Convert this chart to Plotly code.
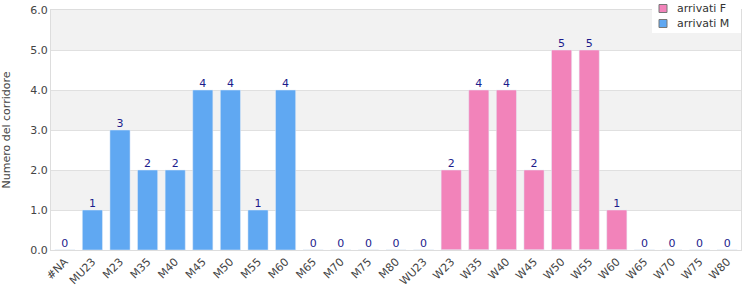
import plotly.graph_objects as go

categories = ["#NA", "MU23", "M23", "M35", "M40", "M45", "M50", "M55", "M60", "M65", "M70", "M75", "M80",
              "WU23", "W23", "W35", "W40", "W45", "W50", "W55", "W60", "W65", "W70", "W75", "W80"]
arrivati_M = [0, 1, 3, 2, 2, 4, 4, 1, 4, 0, 0, 0, 0, 0, 0, 0, 0, 0, 0, 0, 0, 0, 0, 0, 0]
arrivati_F = [0, 0, 0, 0, 0, 0, 0, 0, 0, 0, 0, 0, 0, 0, 2, 4, 4, 2, 5, 5, 1, 0, 0, 0, 0]
series_names = ["arrivati F", "arrivati M"]
totals = [m + f for m, f in zip(arrivati_M, arrivati_F)]

BLUE = "#60a8f2"
PINK = "#f283ba"

L, R, T, B = 51, 9, 10, 50
W, H = 750, 300
PW, PH = W - L - R, H - T - B


def px(x):
    return (x - L) / PW


def py(y):
    return (H - B - y) / PH


fig = go.Figure()
fig.add_trace(go.Bar(x=categories, y=arrivati_F, marker_color=PINK, width=0.73,
                     showlegend=False, name=series_names[0]))
fig.add_trace(go.Bar(x=categories, y=arrivati_M, marker_color=BLUE, width=0.73,
                     showlegend=False, name=series_names[1]))
fig.add_trace(go.Scatter(x=categories, y=totals, mode="text", text=[str(t) for t in totals],
                         textposition="top center", textfont=dict(color="#1c1c8c", size=11,
                         family="DejaVu Sans"), showlegend=False, hoverinfo="skip", cliponaxis=False))

shapes = []
for lo in [1, 3, 5]:
    shapes.append(dict(type="rect", xref="paper", yref="y", x0=0, x1=1, y0=lo, y1=lo + 1,
                       fillcolor="#f2f2f2", line_width=0, layer="below"))

# manual legend
shapes.append(dict(type="rect", xref="paper", yref="paper", x0=px(652), x1=px(741), y0=py(33), y1=py(0),
                   fillcolor="white", line_width=0, layer="above"))
annotations = []
for i, (nm, col) in enumerate(zip(series_names, [PINK, BLUE])):
    yc = 8.5 + 15 * i
    shapes.append(dict(type="rect", xref="paper", yref="paper", x0=px(659), x1=px(667),
                       y0=py(yc + 4), y1=py(yc - 4), fillcolor=col,
                       line=dict(color="#777", width=1), layer="above"))
    annotations.append(dict(xref="paper", yref="paper", x=px(675), y=py(yc), text=nm,
                            showarrow=False, xanchor="left", yanchor="middle",
                            font=dict(size=11, color="#333")))

fig.update_layout(
    width=W, height=H,
    margin=dict(l=L, r=R, t=T, b=B, autoexpand=False),
    barmode="overlay",
    plot_bgcolor="white", paper_bgcolor="white",
    font=dict(family="DejaVu Sans", size=11, color="#444"),
    shapes=shapes, annotations=annotations,
    showlegend=False,
    xaxis=dict(type="category", range=[-0.5, len(categories) - 0.5], tickangle=-45, showgrid=False,
               showline=True, linecolor="#ddd", mirror=True, ticks="",
               tickfont=dict(size=11, color="#444")),
    yaxis=dict(range=[0, 6], dtick=1, tickformat=".1f", showgrid=True, gridcolor="#e0e0e0",
               showline=True, linecolor="#ddd", mirror=True, zeroline=False,
               title=dict(text="Numero del corridore", font=dict(size=11, color="#444"), standoff=17),
               tickfont=dict(size=11, color="#444")),
)

fig.write_html("out.html")
